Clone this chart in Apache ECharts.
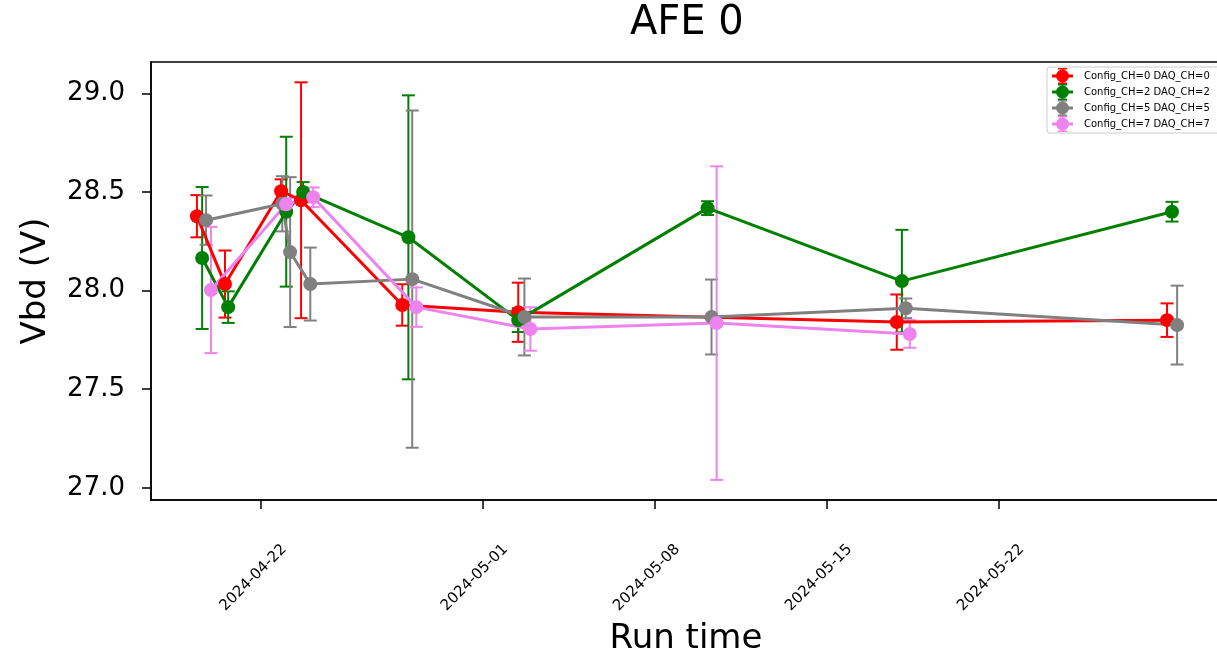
<!DOCTYPE html>
<html>
<head>
<meta charset="utf-8">
<title>AFE 0</title>
<script src="https://cdn.jsdelivr.net/npm/echarts@6/dist/echarts.min.js"></script>
<style>
  html, body { margin: 0; padding: 0; background: #ffffff; }
  #chart { width: 1217px; height: 657px; }
</style>
</head>
<body>
<div id="chart"></div>
<script>
// Breakdown voltage per channel over run time, with error bars.
const channelNames = [
  'Config_CH=0 DAQ_CH=0',
  'Config_CH=2 DAQ_CH=2',
  'Config_CH=5 DAQ_CH=5',
  'Config_CH=7 DAQ_CH=7'
];
const channelColors = ['#ff0000', '#008000', '#808080', '#ee82ee'];

const ch0Times = ['2024-04-19 09:20', '2024-04-20 12:45', '2024-04-22 19:30', '2024-04-23 15:00',
                  '2024-04-27 17:45', '2024-05-02 11:00', '2024-05-17 20:30', '2024-05-28 20:20'];
const ch0Vbd   = [28.377, 28.033, 28.504, 28.458, 27.927, 27.89, 27.84, 27.85];
const ch0Err   = [0.107, 0.17, 0.06, 0.598, 0.105, 0.15, 0.14, 0.085];

const ch2Times = ['2024-04-19 14:25', '2024-04-20 15:50', '2024-04-23 00:30', '2024-04-23 17:00',
                  '2024-04-27 23:45', '2024-05-02 11:00', '2024-05-10 03:50', '2024-05-18 01:30',
                  '2024-05-29 01:10'];
const ch2Vbd   = [28.165, 27.916, 28.40, 28.50, 28.27, 27.85, 28.418, 28.048, 28.40];
const ch2Err   = [0.36, 0.08, 0.38, 0.05, 0.72, 0.06, 0.035, 0.26, 0.05];

const ch5Times = ['2024-04-19 18:15', '2024-04-22 20:40', '2024-04-23 04:20', '2024-04-24 00:00',
                  '2024-04-28 03:30', '2024-05-02 17:00', '2024-05-10 07:40', '2024-05-18 05:15',
                  '2024-05-29 06:10'];
const ch5Vbd   = [28.357, 28.44, 28.195, 28.033, 28.058, 27.866, 27.866, 27.91, 27.825];
const ch5Err   = [0.125, 0.14, 0.38, 0.185, 0.855, 0.195, 0.19, 0.05, 0.2];

const ch7Times = ['2024-04-19 23:00', '2024-04-23 00:30', '2024-04-24 02:50', '2024-04-28 07:30',
                  '2024-05-02 22:50', '2024-05-10 12:40', '2024-05-18 09:10'];
const ch7Vbd   = [28.003, 28.438, 28.473, 27.916, 27.805, 27.835, 27.78];
const ch7Err   = [0.32, 0.03, 0.05, 0.1, 0.11, 0.795, 0.07];

const xTickDates = ['2024-04-22', '2024-05-01', '2024-05-08', '2024-05-15', '2024-05-22'];
const yTickValues = [27.0, 27.5, 28.0, 28.5, 29.0];
const xRange = ['2024-04-17 12:30', '2024-05-31 01:00'];
const yRange = [26.938, 29.159];

function toTime(s) {
  const parts = s.split(' ');
  const d = parts[0].split('-').map(Number);
  const t = (parts[1] || '00:00').split(':').map(Number);
  return Date.UTC(d[0], d[1] - 1, d[2], t[0], t[1]);
}
function pad2(n) { return (n < 10 ? '0' : '') + n; }
function fmtDate(ms) {
  const d = new Date(ms);
  return d.getUTCFullYear() + '-' + pad2(d.getUTCMonth() + 1) + '-' + pad2(d.getUTCDate());
}

const channels = [
  { times: ch0Times, vbd: ch0Vbd, err: ch0Err },
  { times: ch2Times, vbd: ch2Vbd, err: ch2Err },
  { times: ch5Times, vbd: ch5Vbd, err: ch5Err },
  { times: ch7Times, vbd: ch7Vbd, err: ch7Err }
];

// Legend handle: line through a round marker with a capped vertical bar
const handleIcon = 'path://M0,6.5 H21 V9.5 H0 Z ' +
  'M4,8 A6.5,6.5 0 1,1 17,8 A6.5,6.5 0 1,1 4,8 Z ' +
  'M9.8,0 H11.2 V16 H9.8 Z M6,0 H15 V1.5 H6 Z M6,14.5 H15 V16 H6 Z';

function errorBarRenderer(color) {
  return function (params, api) {
    const x = api.value(0), y = api.value(1), e = api.value(2);
    const top = api.coord([x, y + e]);
    const bot = api.coord([x, y - e]);
    const cap = 6.5;
    const style = { stroke: color, lineWidth: 2, fill: null };
    return {
      type: 'group',
      children: [
        { type: 'line', shape: { x1: top[0], y1: top[1], x2: bot[0], y2: bot[1] }, style: style },
        { type: 'line', shape: { x1: top[0] - cap, y1: top[1], x2: top[0] + cap, y2: top[1] }, style: style },
        { type: 'line', shape: { x1: bot[0] - cap, y1: bot[1], x2: bot[0] + cap, y2: bot[1] }, style: style }
      ]
    };
  };
}

const series = [];
channels.forEach(function (ch, i) {
  series.push({
    name: channelNames[i],
    type: 'custom',
    z: 2,
    renderItem: errorBarRenderer(channelColors[i]),
    encode: { x: 0, y: 1 },
    data: ch.times.map(function (t, k) { return [toTime(t), ch.vbd[k], ch.err[k]]; }),
    silent: true
  });
});
channels.forEach(function (ch, i) {
  series.push({
    name: channelNames[i],
    type: 'line',
    z: 3,
    symbol: 'circle',
    symbolSize: 14,
    showAllSymbol: true,
    color: channelColors[i],
    itemStyle: { color: channelColors[i], borderWidth: 0 },
    lineStyle: { color: channelColors[i], width: 3 },
    emphasis: { disabled: true },
    data: ch.times.map(function (t, k) { return [toTime(t), ch.vbd[k]]; })
  });
});

const FONT = 'DejaVu Sans';
const chart = echarts.init(document.getElementById('chart'), null, { renderer: 'canvas' });
chart.setOption({
  animation: false,
  backgroundColor: '#ffffff',
  title: {
    text: 'AFE 0',
    left: 630,
    top: 4,
    padding: 0,
    textStyle: { fontFamily: FONT, fontSize: 40, fontWeight: 'normal', color: '#000' }
  },
  legend: {
    orient: 'vertical',
    left: 1047,
    top: 67,
    padding: [1, 16, 1, 5],
    itemGap: 0,
    itemWidth: 21,
    itemHeight: 16,
    backgroundColor: 'rgba(255,255,255,0.8)',
    borderColor: '#cccccc',
    borderWidth: 1,
    borderRadius: 3,
    selectedMode: false,
    textStyle: { fontFamily: FONT, fontSize: 10, color: '#000', padding: [0, 0, 0, 6] },
    data: channelNames.map(function (n, i) {
      return { name: n, icon: handleIcon, itemStyle: { color: channelColors[i] } };
    })
  },
  grid: {
    left: 151, top: 62, right: -4, bottom: 157,
    outerBoundsMode: 'none',
    containLabel: false,
    show: true, borderColor: '#000', borderWidth: 1.5, backgroundColor: '#ffffff'
  },
  xAxis: {
    // run time as UTC milliseconds, labelled as calendar dates
    type: 'value',
    min: toTime(xRange[0]),
    max: toTime(xRange[1]),
    name: 'Run time',
    nameLocation: 'middle',
    nameGap: 122,
    nameMoveOverlap: false,
    nameTextStyle: { fontFamily: FONT, fontSize: 34, color: '#000' },
    axisLine: { show: true, onZero: false, lineStyle: { color: '#000', width: 1.5 } },
    axisTick: {
      show: true, inside: false, length: 9, lineStyle: { color: '#000', width: 1.5 },
      customValues: xTickDates.map(toTime)
    },
    axisLabel: {
      show: true,
      customValues: xTickDates.map(toTime),
      rotate: 45,
      align: 'center',
      verticalAlign: 'middle',
      margin: 70,
      padding: [0, 22, 0, 0],
      fontFamily: FONT,
      fontSize: 15,
      color: '#000',
      formatter: function (v) { return fmtDate(v); }
    },
    splitLine: { show: false }
  },
  yAxis: {
    type: 'value',
    min: yRange[0],
    max: yRange[1],
    name: 'Vbd (V)',
    nameLocation: 'middle',
    nameGap: 98,
    nameMoveOverlap: false,
    nameTextStyle: { fontFamily: FONT, fontSize: 34, color: '#000' },
    axisLine: { show: true, onZero: false, lineStyle: { color: '#000', width: 1.5 } },
    axisTick: {
      show: true, inside: false, length: 9, lineStyle: { color: '#000', width: 1.5 },
      customValues: yTickValues
    },
    axisLabel: {
      show: true,
      customValues: yTickValues,
      margin: 26,
      fontFamily: FONT,
      fontSize: 26,
      color: '#000',
      formatter: function (v) { return v.toFixed(1); }
    },
    splitLine: { show: false }
  },
  series: series
});
</script>
</body>
</html>
